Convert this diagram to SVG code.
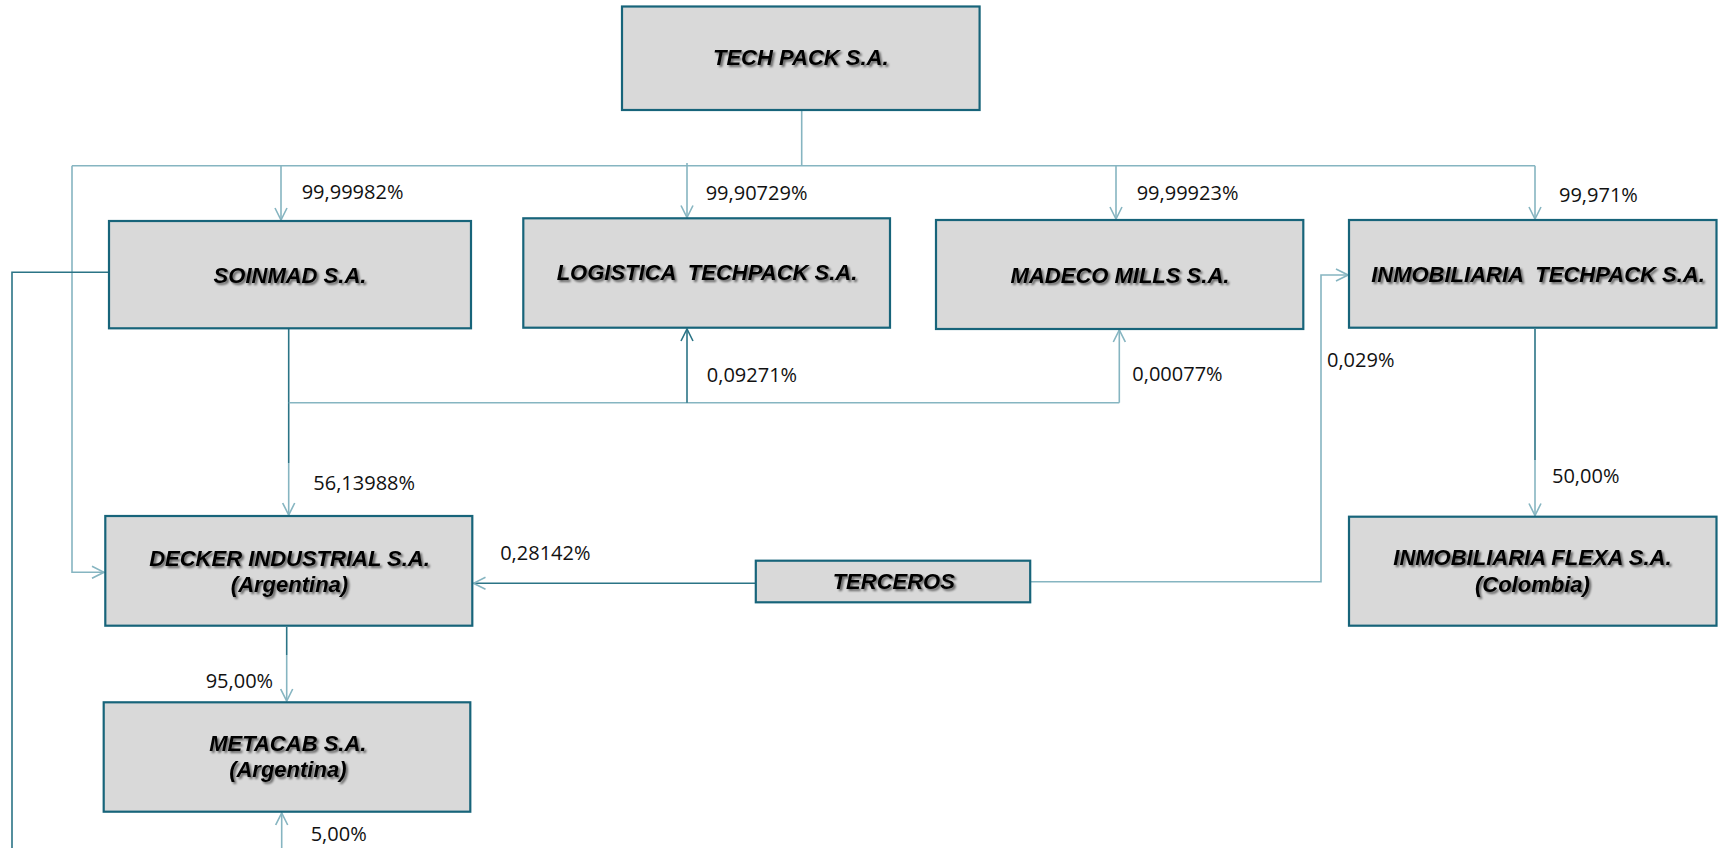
<svg xmlns="http://www.w3.org/2000/svg" width="1718" height="848" viewBox="0 0 1718 848">
<style>
.box{fill:#d9d9d9;stroke:#17647a;stroke-width:2.2}
.nt{font-family:"Liberation Sans",Arial,sans-serif;font-weight:bold;font-style:italic;font-size:22px;fill:#000;text-anchor:middle;filter:url(#sh);white-space:pre}
.lb{font-family:"Open Sans","Liberation Sans",sans-serif;font-size:20px;fill:#111}
.cl{fill:none;stroke:#86b5c1;stroke-width:1.6}
.cd{fill:none;stroke:#2b7486;stroke-width:1.6}
</style>
<defs>
<filter id="sh" x="-10%" y="-30%" width="120%" height="160%">
<feGaussianBlur in="SourceAlpha" stdDeviation="1.2" result="b"/>
<feOffset in="b" dx="2" dy="2" result="o"/>
<feComponentTransfer in="o" result="s"><feFuncA type="linear" slope="0.55"/></feComponentTransfer>
<feMerge><feMergeNode in="s"/><feMergeNode in="SourceGraphic"/></feMerge>
</filter>
<marker id="al" viewBox="0 0 14 14" refX="13" refY="7" markerWidth="14" markerHeight="14" markerUnits="userSpaceOnUse" orient="auto">
<path d="M1,1 L13,7 L1,13" fill="none" stroke="#86b5c1" stroke-width="1.6"/>
</marker>
<marker id="ad" viewBox="0 0 14 14" refX="13" refY="7" markerWidth="14" markerHeight="14" markerUnits="userSpaceOnUse" orient="auto">
<path d="M1,1 L13,7 L1,13" fill="none" stroke="#2b7486" stroke-width="1.6"/>
</marker>
</defs>
<rect width="1718" height="848" fill="#fff"/>
<g id="connectors">
<path class="cl" d="M801.7,110 V165.7"/>
<path class="cl" d="M72,165.7 H1535"/>
<path class="cl" d="M281,165.7 V220" marker-end="url(#al)"/>
<path class="cl" d="M687,163 V217.5" marker-end="url(#al)"/>
<path class="cl" d="M1116,165.7 V219" marker-end="url(#al)"/>
<path class="cl" d="M1535,165.7 V219" marker-end="url(#al)"/>
<path class="cl" d="M72,165.7 V572.3 H104" marker-end="url(#al)"/>
<path class="cd" d="M109,272.3 H12 V848"/>
<path class="cd" d="M288.7,329 V463"/>
<path class="cl" d="M288.7,463 V515" marker-end="url(#al)"/>
<path class="cl" d="M288.7,402.7 H1119.3"/>
<path class="cd" d="M687,402.7 V329" marker-end="url(#ad)"/>
<path class="cl" d="M1119.3,402.7 V330" marker-end="url(#al)"/>
<path class="cd" d="M755.8,583.3 H473.5" marker-end="url(#al)"/>
<path class="cl" d="M1030.2,581.7 H1321 V275 H1348" marker-end="url(#al)"/>
<path class="cd" d="M1535,329 V460"/>
<path class="cl" d="M1535,460 V515.5" marker-end="url(#al)"/>
<path class="cd" d="M286.7,627 V655"/>
<path class="cl" d="M286.7,655 V701" marker-end="url(#al)"/>
<path class="cl" d="M281.7,848 V813" marker-end="url(#al)"/>
</g>
<g id="labels">
<text class="lb" x="301.7" y="199">99,99982%</text>
<text class="lb" x="705.7" y="200">99,90729%</text>
<text class="lb" x="1136.7" y="200">99,99923%</text>
<text class="lb" x="1559" y="202">99,971%</text>
<text class="lb" x="706.8" y="381.7">0,09271%</text>
<text class="lb" x="1132.3" y="380.7">0,00077%</text>
<text class="lb" x="1327" y="367.3">0,029%</text>
<text class="lb" x="313.3" y="490">56,13988%</text>
<text class="lb" x="1552" y="483.3">50,00%</text>
<text class="lb" x="500.2" y="560">0,28142%</text>
<text class="lb" x="205.7" y="688.3">95,00%</text>
<text class="lb" x="310.7" y="841">5,00%</text>
</g>
<g id="techpack"><rect class="box" x="622" y="6.5" width="357.6" height="103.5"/><text class="nt" x="800.8" y="65">TECH PACK S.A.</text></g>
<g id="soinmad"><rect class="box" x="109" y="221" width="362" height="107.3"/><text class="nt" x="290" y="283">SOINMAD S.A.</text></g>
<g id="logistica"><rect class="box" x="523.3" y="218.3" width="366.7" height="109.4"/><text class="nt" x="707" y="280">LOGISTICA  TECHPACK S.A.</text></g>
<g id="madeco"><rect class="box" x="936" y="220" width="367.3" height="109"/><text class="nt" x="1120" y="282.7">MADECO MILLS S.A.</text></g>
<g id="inmob-techpack"><rect class="box" x="1349" y="220" width="367.5" height="107.7"/><text class="nt" x="1538" y="281.7">INMOBILIARIA  TECHPACK S.A.</text></g>
<g id="decker"><rect class="box" x="105.3" y="516" width="367" height="109.7"/><text class="nt" x="289.5" y="566">DECKER INDUSTRIAL S.A.</text><text class="nt" x="289.5" y="591.7">(Argentina)</text></g>
<g id="terceros"><rect class="box" x="755.8" y="560.7" width="274.4" height="41.6"/><text class="nt" x="893.8" y="589.3">TERCEROS</text></g>
<g id="inmob-flexa"><rect class="box" x="1349" y="516.7" width="367.5" height="109"/><text class="nt" x="1532.4" y="565">INMOBILIARIA FLEXA S.A.</text><text class="nt" x="1532.4" y="591.7">(Colombia)</text></g>
<g id="metacab"><rect class="box" x="103.7" y="702.3" width="366.6" height="109.4"/><text class="nt" x="287.8" y="751">METACAB S.A.</text><text class="nt" x="287.8" y="776.7">(Argentina)</text></g>
</svg>
